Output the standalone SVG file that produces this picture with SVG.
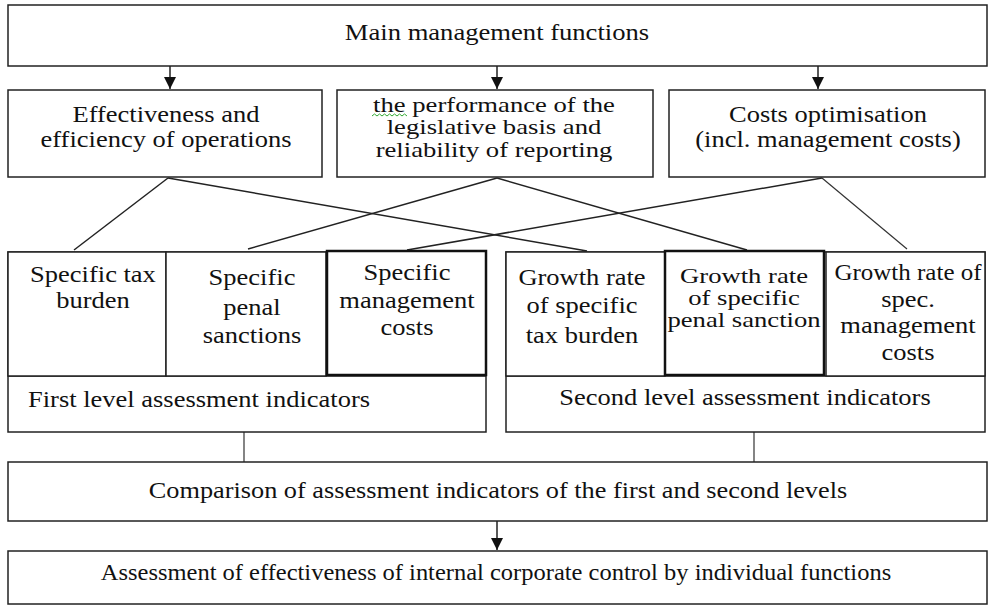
<svg xmlns="http://www.w3.org/2000/svg" width="989" height="606" viewBox="0 0 989 606">
<style>
.box{fill:#fff;stroke:#222;stroke-width:1.5}
.thick{fill:#fff;stroke:#111;stroke-width:2.5}
.t{font-family:"Liberation Serif","Times New Roman",serif;font-size:23px;fill:#111}
.s{font-size:20.5px}
.c{text-anchor:middle}
.ln{stroke:#222;stroke-width:1.5;fill:none}
.thin{stroke:#333;stroke-width:1.2;fill:none}
</style>
<defs>
<marker id="ah" markerUnits="userSpaceOnUse" markerWidth="14" markerHeight="14" refX="12" refY="6" orient="auto">
<path d="M0,0 L12,6 L0,12 Z" fill="#111"/>
</marker>
</defs>
<rect width="989" height="606" fill="#fff"/>
<g id="connectors">
<line class="ln" x1="170" y1="66" x2="170" y2="89" marker-end="url(#ah)"/>
<line class="ln" x1="497" y1="66" x2="497" y2="89" marker-end="url(#ah)"/>
<line class="ln" x1="818" y1="66" x2="818" y2="89" marker-end="url(#ah)"/>
<line class="ln" x1="168" y1="178" x2="74" y2="250"/>
<line class="ln" x1="168" y1="178" x2="587" y2="251"/>
<line class="ln" x1="497" y1="178" x2="248" y2="249"/>
<line class="ln" x1="497" y1="178" x2="747" y2="250"/>
<line class="ln" x1="822" y1="178" x2="407" y2="250"/>
<line class="thin" x1="822" y1="178" x2="907" y2="249"/>
<line class="thin" x1="244" y1="432" x2="244" y2="462"/>
<line class="thin" x1="754" y1="432" x2="754" y2="462"/>
<line class="ln" x1="497" y1="521" x2="497" y2="550" marker-end="url(#ah)"/>
</g>
<g id="main">
<rect class="box" x="8" y="5" width="979" height="61"/>
<text class="t c" transform="translate(497,0) scale(1.157,1)" y="40">Main management functions</text>
</g>
<g id="effectiveness">
<rect class="box" x="8" y="90" width="314" height="87"/>
<text class="t c" transform="translate(166,0) scale(1.152,1)" y="122">Effectiveness and</text>
<text class="t c" transform="translate(166,0) scale(1.152,1)" y="147">efficiency of operations</text>
</g>
<g id="legislative">
<rect class="box" x="337" y="90" width="316" height="87"/>
<text class="t s c" transform="translate(494,0) scale(1.3,1)" y="112">the performance of the</text>
<text class="t s c" transform="translate(494,0) scale(1.3,1)" y="134.5">legislative basis and</text>
<text class="t s c" transform="translate(494,0) scale(1.3,1)" y="157">reliability of reporting</text>
<path d="M372,116 l2.5,-2 l2.5,2 l2.5,-2 l2.5,2 l2.5,-2 l2.5,2 l2.5,-2 l2.5,2 l2.5,-2 l2.5,2 l2.5,-2 l2.5,2 l2.5,-2 l2.5,2" fill="none" stroke="#3a3" stroke-width="1"/>
</g>
<g id="costs">
<rect class="box" x="669" y="90" width="316" height="87"/>
<text class="t c" transform="translate(828,0) scale(1.152,1)" y="122">Costs optimisation</text>
<text class="t c" transform="translate(828,0) scale(1.152,1)" y="147">(incl. management costs)</text>
</g>
<g id="first-level">
<rect class="box" x="8" y="252" width="478" height="180"/>
<line class="ln" x1="8" y1="376" x2="486" y2="376"/>
<text class="t" transform="translate(28,0) scale(1.152,1)" y="407">First level assessment indicators</text>
</g>
<g id="spec-tax">
<rect class="box" x="8" y="252" width="158" height="124"/>
<text class="t c" transform="translate(93,0) scale(1.152,1)" y="282">Specific tax</text>
<text class="t c" transform="translate(93,0) scale(1.152,1)" y="308">burden</text>
</g>
<g id="spec-penal">
<rect class="box" x="166" y="252" width="160" height="124"/>
<text class="t c" transform="translate(252,0) scale(1.152,1)" y="285">Specific</text>
<text class="t c" transform="translate(252,0) scale(1.152,1)" y="315">penal</text>
<text class="t c" transform="translate(252,0) scale(1.152,1)" y="343">sanctions</text>
</g>
<g id="spec-mgmt">
<rect class="thick" x="327" y="251" width="159" height="124"/>
<text class="t c" transform="translate(407,0) scale(1.152,1)" y="280">Specific</text>
<text class="t c" transform="translate(407,0) scale(1.152,1)" y="308">management</text>
<text class="t c" transform="translate(407,0) scale(1.152,1)" y="335">costs</text>
</g>
<g id="second-level">
<rect class="box" x="506" y="252" width="479" height="180"/>
<line class="ln" x1="506" y1="376" x2="985" y2="376"/>
<text class="t c" transform="translate(745,0) scale(1.152,1)" y="405">Second level assessment indicators</text>
</g>
<g id="growth-tax">
<rect class="box" x="506" y="252" width="159" height="124"/>
<text class="t c" transform="translate(582,0) scale(1.152,1)" y="285">Growth rate</text>
<text class="t c" transform="translate(582,0) scale(1.152,1)" y="313">of specific</text>
<text class="t c" transform="translate(582,0) scale(1.152,1)" y="343">tax burden</text>
</g>
<g id="growth-penal">
<rect class="thick" x="665" y="251" width="159" height="124"/>
<text class="t s c" transform="translate(744,0) scale(1.3,1)" y="283">Growth rate</text>
<text class="t s c" transform="translate(744,0) scale(1.3,1)" y="305">of specific</text>
<text class="t s c" transform="translate(744,0) scale(1.3,1)" y="327">penal sanction</text>
</g>
<g id="growth-mgmt">
<rect class="box" x="826" y="252" width="159" height="124"/>
<text class="t c" transform="translate(908,0) scale(1.087,1)" y="280">Growth rate of</text>
<text class="t c" transform="translate(908,0) scale(1.152,1)" y="307">spec.</text>
<text class="t c" transform="translate(908,0) scale(1.152,1)" y="333">management</text>
<text class="t c" transform="translate(908,0) scale(1.152,1)" y="360">costs</text>
</g>
<g id="comparison">
<rect class="box" x="8" y="462" width="979" height="59"/>
<text class="t c" transform="translate(498,0) scale(1.143,1)" y="498">Comparison of assessment indicators of the first and second levels</text>
</g>
<g id="assessment">
<rect class="box" x="8" y="551" width="979" height="53"/>
<text class="t c" transform="translate(496,0) scale(1.065,1)" y="580">Assessment of effectiveness of internal corporate control by individual functions</text>
</g>
</svg>
